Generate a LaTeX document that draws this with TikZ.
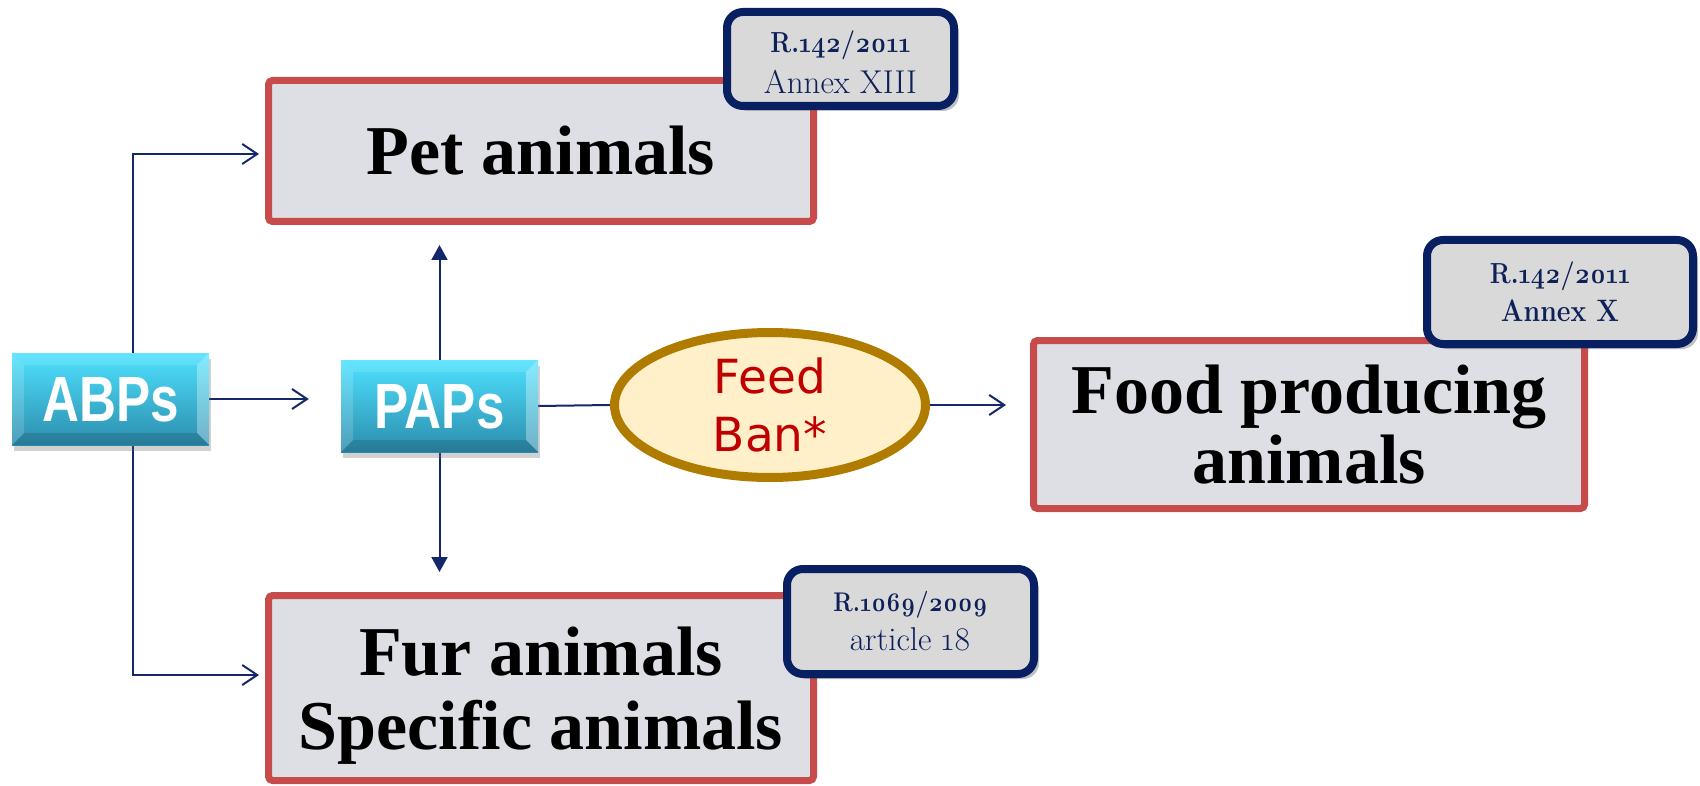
\documentclass[tikz,border=0pt]{standalone}
\usepackage{fontspec}
\setmainfont{Liberation Serif}
\newfontfamily\tagfont[Numbers=OldStyle, BoldFeatures={FakeStretch=0.86}]{Latin Modern Roman}
\newfontfamily\blockfont[FakeStretch=0.8]{Liberation Sans}
\newfontfamily\banfont{DejaVu Sans}
\usetikzlibrary{arrows.meta,shadows,shapes.geometric,backgrounds}
\definecolor{boxred}{RGB}{200,75,75}
\definecolor{boxgray}{RGB}{222,223,228}
\definecolor{tagnavy}{RGB}{8,32,98}
\definecolor{taggray}{RGB}{217,217,217}
\definecolor{tagtext}{RGB}{14,32,88}
\definecolor{linenavy}{RGB}{20,40,105}
\definecolor{banborder}{RGB}{176,124,0}
\definecolor{banfill}{RGB}{255,240,201}
\definecolor{banred}{RGB}{192,0,0}
\definecolor{cyantop}{RGB}{78,226,255}
\definecolor{cyanbot}{RGB}{44,140,172}
\newcommand{\nodepth}[1]{\raisebox{0pt}[\height][0pt]{#1}}
\begin{document}
\begin{tikzpicture}[x=1pt,y=-1pt,
  redbox/.style={draw=boxred, line width=7pt, fill=boxgray, rounded corners=4pt,
    inner sep=0pt, align=center, text=black},
  bigtext/.style={font=\fontsize{70}{#1}\selectfont\bfseries},
  tagbox/.style={draw=tagnavy, line width=8pt, fill=taggray, rounded corners=16pt,
    inner sep=0pt, align=center, text=tagtext,
    drop shadow={shadow xshift=5pt, shadow yshift=-5pt, opacity=0.35, fill=black!70}},
  bluebox/.style={minimum width=197pt, minimum height=92pt, inner sep=0pt,
    top color=cyantop, bottom color=cyanbot, text=white,
    font=\blockfont\bfseries\fontsize{64}{70}\selectfont,
    drop shadow={shadow xshift=2pt, shadow yshift=-6pt, opacity=0.3, fill=black!60},
    path picture={
      \fill[white,opacity=0.16] (path picture bounding box.north west) -- ++(12pt,-12pt)
        -- ([xshift=12pt,yshift=12pt]path picture bounding box.south west)
        -- (path picture bounding box.south west) -- cycle;
      \fill[white,opacity=0.32] (path picture bounding box.north east) -- ++(-12pt,-12pt)
        -- ([xshift=-12pt,yshift=12pt]path picture bounding box.south east)
        -- (path picture bounding box.south east) -- cycle;
      \fill[white,opacity=0.12] (path picture bounding box.north west)
        -- (path picture bounding box.north east) -- ++(-12pt,-12pt)
        -- ([xshift=12pt,yshift=-12pt]path picture bounding box.north west) -- cycle;
      \fill[black,opacity=0.12] (path picture bounding box.south west)
        -- (path picture bounding box.south east) -- ++(-12pt,12pt)
        -- ([xshift=12pt,yshift=12pt]path picture bounding box.south west) -- cycle;
    }},
  banstyle/.style={ellipse, draw=banborder, line width=9pt, fill=banfill,
    minimum width=311pt, minimum height=145pt, inner sep=0pt, align=center,
    text=banred, font=\banfont\fontsize{47}{58}\selectfont},
  conn/.style={draw=linenavy, line width=2pt},
  openarrow/.style={conn, -{Straight Barb[length=15pt,width=20pt,line width=2pt]}},
  fillarrow/.style={conn, -{Triangle[length=15pt,width=16pt]}}
]
\useasboundingbox (0,0) rectangle (1700,786);

% main boxes
\node[redbox, bigtext=72, minimum width=545pt, minimum height=141pt] (pet) at (541,151) {Pet animals};
\node[redbox, bigtext=70, minimum width=551pt, minimum height=168pt] (food) at (1309,424.5) {Food producing\\animals};
\node[redbox, bigtext=74, minimum width=545pt, minimum height=185pt] (fur) at (541,688) {Fur animals\\\nodepth{Specific animals}};

% regulation tags
\node[tagbox, minimum width=227pt, minimum height=94pt,
  font=\tagfont\fontsize{33}{41}\selectfont] (tagpet) at (840.5,59)
  {\rule{0pt}{28pt}\textbf{\fontsize{29}{41}\selectfont R.142/2011}\\Annex XIII};
\node[tagbox, minimum width=266pt, minimum height=104pt,
  font=\tagfont\fontsize{31}{38}\selectfont\bfseries] (tagfood) at (1560,292)
  {{\fontsize{29}{38}\selectfont R.142/2011}\\Annex X};
\node[tagbox, minimum width=247pt, minimum height=105pt,
  font=\tagfont\fontsize{33}{39}\selectfont] (tagfur) at (910.5,621.5)
  {\textbf{\fontsize{27}{39}\selectfont R.1069/2009}\\article 18};

% blocks
\node[bluebox] (abps) at (110.5,399) {\nodepth{ABPs}};
\node[bluebox] (paps) at (439.5,406) {\nodepth{PAPs}};

% feed ban
\node[banstyle] (ban) at (770,405) {Feed\\Ban*};

% connectors
\begin{scope}[on background layer]
\draw[openarrow, shorten >=6pt] ([xshift=22.5pt]abps.north) |- ([yshift=-3pt]pet.west);
\draw[openarrow, shorten >=6pt] ([xshift=22.5pt]abps.south) |- ([yshift=13pt]fur.west);
\draw[openarrow, shorten >=32pt] (abps.east) -- (abps.east -| paps.west);
\draw[fillarrow, shorten >=20pt] (paps.north) -- (paps.north |- pet.south);
\draw[fillarrow, shorten >=20pt] (paps.south) -- (paps.south |- fur.north);
\draw[conn] (paps.east) -- (ban.west);
\draw[openarrow, shorten >=24pt] (ban.east) -- (ban.east -| food.west);
\end{scope}
\end{tikzpicture}
\end{document}
